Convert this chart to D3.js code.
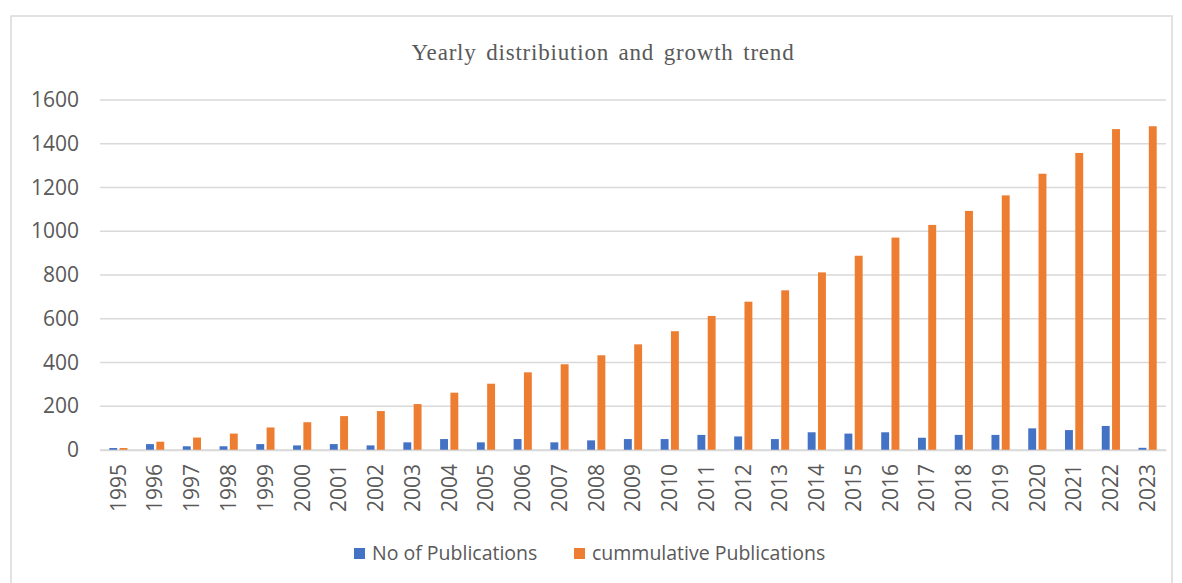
<!doctype html>
<html>
<head>
<script src="https://d3js.org/d3.v7.min.js"></script>
<style>
body { margin: 0; background: #fff; }
</style>
</head>
<body>
<svg width="1182" height="583"></svg>
<script>
// data
var years = ["1995","1996","1997","1998","1999","2000","2001","2002","2003","2004",
             "2005","2006","2007","2008","2009","2010","2011","2012","2013","2014",
             "2015","2016","2017","2018","2019","2020","2021","2022","2023"];
var publications = [9, 27, 17, 17, 27, 21, 27, 21, 35, 50,
                    35, 50, 35, 44, 50, 50, 69, 62, 50, 81,
                    75, 81, 56, 69, 69, 99, 91, 110, 10];
var cumulative = [9, 38, 57, 75, 103, 127, 155, 178, 210, 262,
                  303, 355, 392, 433, 483, 543, 613, 678, 730, 812,
                  888, 971, 1029, 1093, 1164, 1263, 1358, 1467, 1480];
var yTicks = [0, 200, 400, 600, 800, 1000, 1200, 1400, 1600];
var seriesNames = ["No of Publications", "cummulative Publications"];
var colors = ["#4472c4", "#ed7d31"];

var svg = d3.select("svg"),
    plotLeft = 100, plotRight = 1166, plotTop = 100, plotBottom = 450;

// chart frame
svg.append("rect")
  .attr("x", 11).attr("y", 16)
  .attr("width", 1161).attr("height", 580)
  .attr("fill", "none").attr("stroke", "#d9d9d9").attr("stroke-width", 1.5);

var x = d3.scaleBand().domain(years).range([plotLeft, plotRight]);
var y = d3.scaleLinear().domain([0, 1600]).range([plotBottom, plotTop]);

// title
svg.append("text")
  .attr("x", 603).attr("y", 60)
  .attr("text-anchor", "middle")
  .style("font-family", "Liberation Serif, Times New Roman, serif")
  .style("font-size", "23px")
  .style("letter-spacing", "0.8px")
  .style("word-spacing", "3px")
  .style("fill", "#595959")
  .text("Yearly distribiution and growth trend");

// gridlines
svg.append("g").selectAll("line")
  .data(yTicks)
  .enter().append("line")
  .attr("x1", plotLeft).attr("x2", plotRight)
  .attr("y1", d => y(d)).attr("y2", d => y(d))
  .attr("stroke", "#d9d9d9").attr("stroke-width", 1.5);

// y axis labels
var yAxis = svg.append("g")
  .attr("transform", "translate(" + plotLeft + ",0)")
  .call(d3.axisLeft(y).tickValues(yTicks).tickFormat(d3.format("d")).tickSize(0).tickPadding(21));
yAxis.select(".domain").remove();
yAxis.selectAll("text")
  .style("font-family", "Open Sans, Noto Sans, sans-serif")
  .style("font-size", "21px")
  .style("fill", "#595959");

// bars
var bw = x.bandwidth() * 0.215, gap = x.bandwidth() * 0.065;
var rows = years.map((yr, i) => ({ year: yr, pub: publications[i], cum: cumulative[i] }));

svg.append("g").selectAll("rect")
  .data(rows)
  .enter().append("rect")
  .attr("x", d => x(d.year) + x.bandwidth() / 2 - gap / 2 - bw)
  .attr("y", d => y(d.pub))
  .attr("width", bw)
  .attr("height", d => plotBottom - y(d.pub))
  .attr("fill", colors[0]);

svg.append("g").selectAll("rect")
  .data(rows)
  .enter().append("rect")
  .attr("x", d => x(d.year) + x.bandwidth() / 2 + gap / 2)
  .attr("y", d => y(d.cum))
  .attr("width", bw)
  .attr("height", d => plotBottom - y(d.cum))
  .attr("fill", colors[1]);

// x axis
var xAxis = svg.append("g")
  .attr("transform", "translate(0," + plotBottom + ")")
  .call(d3.axisBottom(x).tickSize(0).tickPadding(0));
xAxis.select(".domain").attr("stroke", "#d9d9d9").attr("stroke-width", 1.5);
xAxis.selectAll("text")
  .attr("transform", "rotate(-90)")
  .attr("x", -14).attr("y", 0).attr("dy", "0.35em")
  .attr("text-anchor", "end")
  .style("font-family", "Open Sans, Noto Sans, sans-serif")
  .style("font-size", "21px")
  .style("fill", "#595959");

// legend
var legendX = [354, 574];
var legend = svg.append("g").selectAll("g")
  .data(seriesNames)
  .enter().append("g")
  .attr("transform", (d, i) => "translate(" + legendX[i] + ",548)");
legend.append("rect")
  .attr("width", 11).attr("height", 11)
  .attr("fill", (d, i) => colors[i]);
legend.append("text")
  .attr("x", 18).attr("y", 12)
  .style("font-family", "Open Sans, Noto Sans, sans-serif")
  .style("font-size", "19.5px")
  .style("fill", "#595959")
  .text(d => d);
</script>
</body>
</html>
